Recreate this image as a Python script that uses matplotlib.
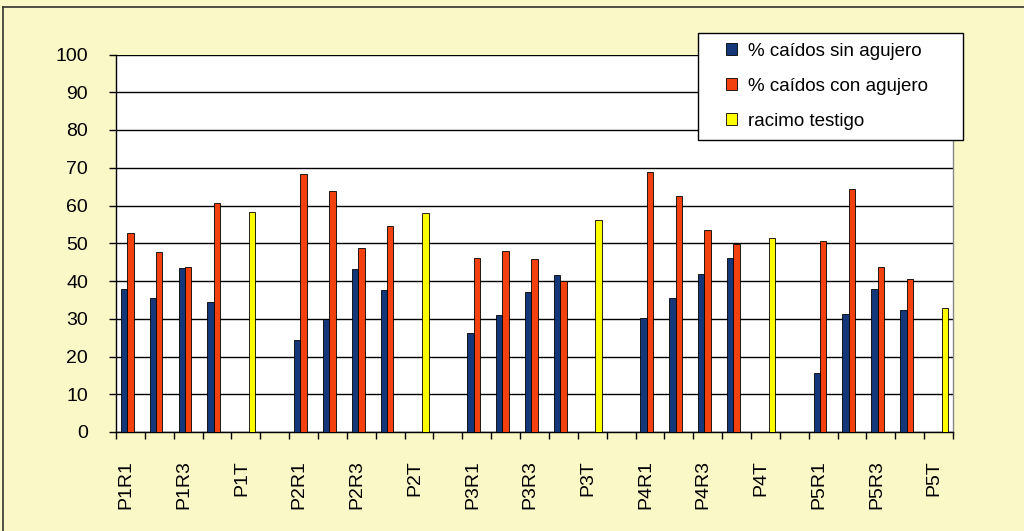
import numpy as np
import matplotlib
matplotlib.use("Agg")
import matplotlib.pyplot as plt
from matplotlib.patches import Patch, Rectangle

plt.rcParams['font.family'] = ['Liberation Sans', 'DejaVu Sans']

# categorias (una vacia entre parcelas)
categorias = ["P1R1", "P1R2", "P1R3", "P1R4", "P1T", "",
              "P2R1", "P2R2", "P2R3", "P2R4", "P2T", "",
              "P3R1", "P3R2", "P3R3", "P3R4", "P3T", "",
              "P4R1", "P4R2", "P4R3", "P4R4", "P4T", "",
              "P5R1", "P5R2", "P5R3", "P5R4", "P5T"]

nan = np.nan
sin_agujero = [37.9, 35.4, 43.4, 34.5, nan, nan,
               24.5, 29.9, 43.3, 37.5, nan, nan,
               26.3, 31.0, 37.1, 41.6, nan, nan,
               30.3, 35.4, 41.8, 46.2, nan, nan,
               15.6, 31.2, 37.9, 32.3, nan]
con_agujero = [52.6, 47.6, 43.7, 60.6, nan, nan,
               68.4, 63.9, 48.7, 54.6, nan, nan,
               46.1, 48.0, 45.8, 39.9, nan, nan,
               69.0, 62.4, 53.4, 49.9, nan, nan,
               50.6, 64.4, 43.8, 40.6, nan]
testigo = [nan, nan, nan, nan, 58.4, nan,
           nan, nan, nan, nan, 58.0, nan,
           nan, nan, nan, nan, 56.2, nan,
           nan, nan, nan, nan, 51.3, nan,
           nan, nan, nan, nan, 32.8]

etiquetas = [c if i % 2 == 0 else "" for i, c in enumerate(categorias)]

azul = "#14377a"
rojo = "#f2400f"
amarillo = "#ffff00"
fondo = "#fbf8c8"

fig = plt.figure(figsize=(10.24, 5.31), dpi=100, facecolor=fondo)
ax = fig.add_axes([116/1024, 1 - 432/531, (953 - 116)/1024, (432 - 54.5)/531])
ax.set_facecolor("white")

x = np.arange(len(categorias))
w = 0.222
kw = dict(width=w, edgecolor="black", linewidth=0.6, zorder=3)
ax.bar(x - w, sin_agujero, color=azul, label="% caídos sin agujero", **kw)
ax.bar(x, con_agujero, color=rojo, label="% caídos con agujero", **kw)
ax.bar(x + w, testigo, color=amarillo, label="racimo testigo", **kw)

ax.set_xlim(-0.5, len(categorias) - 0.5)
ax.set_ylim(0, 100)
ax.set_yticks(range(0, 101, 10))
ax.yaxis.grid(True, color="black", linewidth=1.0, zorder=1)
ax.tick_params(axis="y", labelsize=14, length=5, width=1, direction="out", pad=15)

ax.set_xticks(x - 0.15)
ax.set_xticklabels(etiquetas, rotation=90, fontsize=14)
ax.set_xticks(np.arange(-0.5, len(categorias)), minor=True)
ax.tick_params(axis="x", which="major", length=0, pad=20)
ax.tick_params(axis="x", which="minor", length=5, width=1, direction="out")

for s in ["left", "bottom"]:
    ax.spines[s].set_color("black")
    ax.spines[s].set_linewidth(1.0)
ax.spines["top"].set_visible(False)
ax.spines["right"].set_color("#888888")
ax.spines["right"].set_linewidth(1.0)

# caja de la leyenda
caja = Rectangle((698/1024, 1 - 140/531), 265/1024, 107/531, transform=fig.transFigure,
                 facecolor="white", edgecolor="black", linewidth=1.0, zorder=5)
fig.add_artist(caja)

handles = [Patch(facecolor=azul, edgecolor="black", linewidth=0.6),
           Patch(facecolor=rojo, edgecolor="black", linewidth=0.6),
           Patch(facecolor=amarillo, edgecolor="black", linewidth=0.6)]
nombres = ["% caídos sin agujero", "% caídos con agujero", "racimo testigo"]
leg = fig.legend(handles, nombres, loc="upper left",
                 bbox_to_anchor=(726/1024, 1 - 43/531),
                 fontsize=13.5, frameon=False,
                 handlelength=0.6, handleheight=0.6, handletextpad=0.55,
                 labelspacing=0.95, borderpad=0, borderaxespad=0)
leg.set_zorder(6)

# borde exterior
fig.add_artist(plt.Line2D([3/1024, 3/1024], [0, 1 - 7/531], color="#333333", lw=1.2))
fig.add_artist(plt.Line2D([3/1024, 1], [1 - 7/531, 1 - 7/531], color="#333333", lw=1.2))

fig.savefig("out.png", dpi=100, facecolor=fondo)
